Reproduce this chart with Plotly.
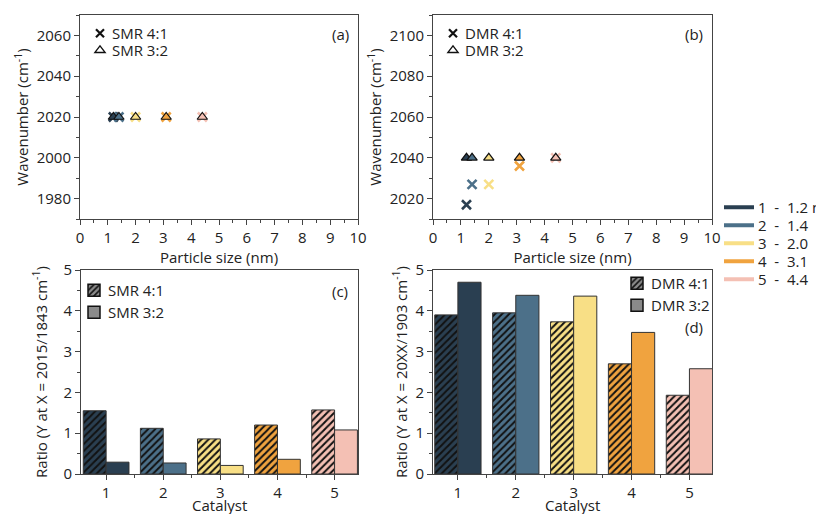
import plotly.graph_objects as go

# ---------------- data ----------------
catalysts = [1, 2, 3, 4, 5]
sizes = [1.2, 1.4, 2.0, 3.1, 4.4]
size_labels = ["1\u00a0 - \u00a01.2 nm", "2\u00a0 - \u00a01.4", "3\u00a0 - \u00a02.0", "4\u00a0 - \u00a03.1", "5\u00a0 - \u00a04.4"]
colors = ["#2a3f51", "#4c7089", "#f8df86", "#f0a33f", "#f4c0b4"]

smr41_wn = [2020, 2020, 2020, 2020, 2020]
smr32_wn = [2020, 2020, 2020, 2020, 2020]
dmr41_wn = [2017, 2027, 2027, 2036, 2040]
dmr32_wn = [2040, 2040, 2040, 2040, 2040]

smr41_ratio = [1.55, 1.12, 0.86, 1.20, 1.57]
smr32_ratio = [0.29, 0.27, 0.21, 0.36, 1.08]
dmr41_ratio = [3.90, 3.95, 3.73, 2.70, 1.93]
dmr32_ratio = [4.70, 4.38, 4.36, 3.47, 2.58]

FONT = "Open Sans"
W, H = 816, 514
ROW_OFF = 16  # legend top -> first row centre

def px(x0, x1):
    return [x0 / W, x1 / W]

def py(top, bottom):
    return [1 - bottom / H, 1 - top / H]

fig = go.Figure()
legend_layout = {}
legfont = dict(family=FONT, size=15, color="#222")
leg_idx = [0]

def label(text, x, y, anchor="left"):
    fig.add_annotation(text=text, x=x / W, y=1 - y / H, xref="paper", yref="paper",
                       xanchor=anchor, yanchor="middle", showarrow=False,
                       font=dict(family=FONT, size=15, color="#222"))

def new_legend(symx, rowy):
    """one-item legend whose swatch is centred at (symx, rowy) in pixels"""
    leg_idx[0] += 1
    key = "legend" if leg_idx[0] == 1 else "legend%d" % leg_idx[0]
    legend_layout[key] = dict(x=(symx - 20) / W, y=1 - (rowy - ROW_OFF) / H,
                              xanchor="left", yanchor="top",
                              bgcolor="rgba(0,0,0,0)", font=legfont, tracegroupgap=0,
                              itemwidth=30)
    return key

# ---------------- (a) / (b) scatter ----------------
def add_scatter(xa, ya, v41, v32, n41, n32, sx):
    fig.add_trace(go.Scatter(x=sizes, y=v41, mode="markers", xaxis=xa, yaxis=ya,
                             marker=dict(symbol="x-thin", size=9, color=colors,
                                         line=dict(width=2.6, color=colors)),
                             showlegend=False))
    fig.add_trace(go.Scatter(x=sizes, y=v32, mode="markers", xaxis=xa, yaxis=ya,
                             marker=dict(symbol="triangle-up", size=9, color=colors,
                                         line=dict(width=1.2, color="#111")),
                             showlegend=False))
    fig.add_trace(go.Scatter(x=[None], y=[None], mode="markers", xaxis=xa, yaxis=ya,
                             name=" ", legend=new_legend(sx, 33),
                             marker=dict(symbol="x-thin", size=8, color="#111",
                                         line=dict(width=2.2, color="#111"))))
    label(n41, sx + 10, 33)
    fig.add_trace(go.Scatter(x=[None], y=[None], mode="markers", xaxis=xa, yaxis=ya,
                             name=" ", legend=new_legend(sx, 50),
                             marker=dict(symbol="triangle-up-open", size=9, color="#111",
                                         line=dict(width=1.3))))
    label(n32, sx + 10, 50)

add_scatter("x", "y", smr41_wn, smr32_wn, "SMR 4:1", "SMR 3:2", 100)
add_scatter("x2", "y2", dmr41_wn, dmr32_wn, "DMR 4:1", "DMR 3:2", 453)

# ---------------- bars ----------------
line_bar = dict(color="#333", width=1)

def hatch(bg):
    return dict(shape="/", fgcolor="#111111", bgcolor=bg, fgopacity=1, size=5,
                solidity=0.4, fillmode="replace")

def add_bars(xa, ya, v41, v32, n41, n32, sx, r1, r2):
    # hatched bars: one trace per catalyst so each keeps its own pattern background
    for cat, val, c in zip(catalysts, v41, colors):
        fig.add_trace(go.Bar(x=[cat], y=[val], xaxis=xa, yaxis=ya, offsetgroup="h",
                             marker=dict(color=c, pattern=hatch(c), line=line_bar),
                             showlegend=False))
    fig.add_trace(go.Bar(x=catalysts, y=v32, xaxis=xa, yaxis=ya, offsetgroup="s",
                         marker=dict(color=colors, line=line_bar), showlegend=False))
    fig.add_trace(go.Bar(x=[None], y=[None], xaxis=xa, yaxis=ya, offsetgroup="h",
                         name=" ", legend=new_legend(sx, r1),
                         marker=dict(color="#8a8a8a", pattern=hatch("#8a8a8a"),
                                     line=dict(color="#111", width=1.5))))
    label(n41, sx + 12, r1)
    fig.add_trace(go.Bar(x=[None], y=[None], xaxis=xa, yaxis=ya, offsetgroup="s",
                         name=" ", legend=new_legend(sx, r2),
                         marker=dict(color="#8a8a8a", line=dict(color="#111", width=1.5))))
    label(n32, sx + 12, r2)

add_bars("x3", "y3", smr41_ratio, smr32_ratio, "SMR 4:1", "SMR 3:2", 94, 290, 312)
add_bars("x4", "y4", dmr41_ratio, dmr32_ratio, "DMR 4:1", "DMR 3:2", 637, 283, 305)

# ---------------- size legend (swatches + labels) ----------------
size_rows = [207, 225, 243, 261, 279]
for lab, c, yr in zip(size_labels, colors, size_rows):
    fig.add_trace(go.Scatter(x=[None], y=[None], mode="lines", xaxis="x", yaxis="y",
                             name=" ", legend=new_legend(739, yr),
                             line=dict(color=c, width=4)))
    label(lab, 756, yr)

# ---------------- axes ----------------
axcommon = dict(showline=True, linecolor="#444", linewidth=1, mirror=True,
                ticks="outside", ticklen=5, tickcolor="#444", showgrid=False, zeroline=False,
                tickfont=dict(family=FONT, size=15, color="#222"),
                title_font=dict(family=FONT, size=15, color="#222"))

def xs(**kw):
    d = dict(axcommon); d.update(kw); return d

def mn(**kw):
    d = dict(ticklen=3, ticks="outside", tickcolor="#444"); d.update(kw); return d

fig.update_layout(
    xaxis=xs(domain=px(80, 358), anchor="y", range=[0, 10], dtick=1, minor=mn(dtick=0.5),
             title=dict(text="Particle size (nm)", standoff=0)),
    yaxis=xs(domain=py(15, 219), anchor="x", range=[1970, 2070], dtick=20, minor=mn(dtick=10),
             title=dict(text="Wavenumber (cm<sup>-1</sup>)", standoff=4)),
    xaxis2=xs(domain=px(433, 712), anchor="y2", range=[0, 10], dtick=1, minor=mn(dtick=0.5),
              title=dict(text="Particle size (nm)", standoff=0)),
    yaxis2=xs(domain=py(15, 219), anchor="x2", range=[2010, 2110], dtick=20, minor=mn(dtick=10),
              title=dict(text="Wavenumber (cm<sup>-1</sup>)", standoff=4)),
    xaxis3=xs(domain=px(81, 358), anchor="y3", range=[0.56, 5.41], tickvals=catalysts,
              minor=mn(tickvals=[1.5, 2.5, 3.5, 4.5])),
    yaxis3=xs(domain=py(270, 474), anchor="x3", range=[0, 5], dtick=1, minor=mn(dtick=0.5),
              title=dict(text="Ratio (Y at X = 2015/1843 cm<sup>-1</sup>)", standoff=12)),
    xaxis4=xs(domain=px(433, 712), anchor="y4", range=[0.57, 5.39], tickvals=catalysts,
              minor=mn(tickvals=[1.5, 2.5, 3.5, 4.5])),
    yaxis4=xs(domain=py(270, 474), anchor="x4", range=[0, 5], dtick=1, minor=mn(dtick=0.5),
              title=dict(text="Ratio (Y at X = 20XX/1903 cm<sup>-1</sup>)", standoff=4)),
    barmode="group", bargap=0.2, bargroupgap=0,
    width=W, height=H, margin=dict(l=0, r=0, t=0, b=0, autoexpand=False),
    paper_bgcolor="white", plot_bgcolor="white",
    font=dict(family=FONT, size=15, color="#222"),
)
fig.update_layout(**legend_layout)

# x-axis titles of the bar panels (placed below the tick labels)
label("Catalyst", 219.5, 505, anchor="center")
label("Catalyst", 572.5, 505, anchor="center")

for txt, x, y in [("(a)", 340, 34), ("(b)", 694, 34), ("(c)", 340, 291), ("(d)", 694, 327)]:
    label(txt, x, y, anchor="center")

fig.write_html("out.html")
